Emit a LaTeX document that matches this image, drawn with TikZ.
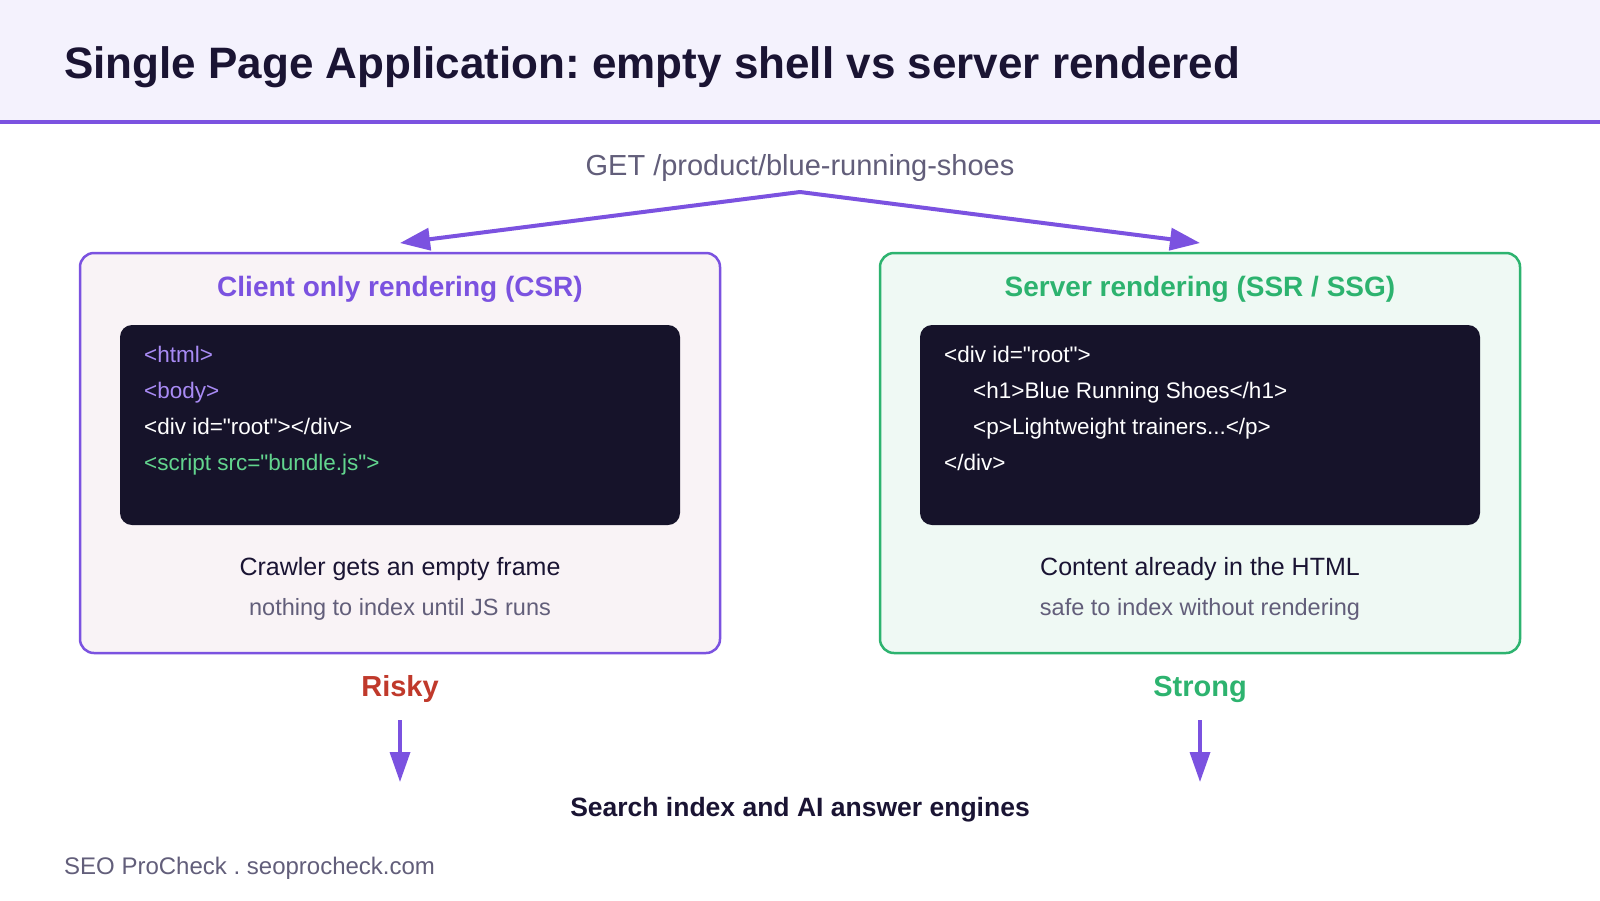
\documentclass[tikz,border=0pt]{standalone}
\usepackage{fontspec}
\setmainfont{Liberation Sans}
\setmonofont{Liberation Sans}
\usetikzlibrary{arrows.meta}
\frenchspacing
\definecolor{hdrbg}{HTML}{F4F2FD}
\definecolor{accent}{HTML}{7B52E0}
\definecolor{ink}{HTML}{1A1433}
\definecolor{muted}{HTML}{625E7A}
\definecolor{csrfill}{HTML}{F9F3F6}
\definecolor{ssrfill}{HTML}{EFF9F4}
\definecolor{okgreen}{HTML}{2DB36F}
\definecolor{codebg}{HTML}{16132A}
\definecolor{lav}{HTML}{A98BF5}
\definecolor{codegreen}{HTML}{62D58E}
\definecolor{riskred}{HTML}{C0392B}
\tikzset{
  fs/.style={font=\fontsize{#1}{#1}\selectfont},
  txt/.style={inner sep=0pt, anchor=base},
  codeln/.style={inner sep=0pt, anchor=base west, font=\ttfamily\fontsize{22.5}{22.5}\selectfont},
  panel/.style={rounded corners=14pt, line width=2.5pt, minimum width=640, minimum height=400, inner sep=0pt},
  codebox/.style={rounded corners=12pt, fill=codebg, minimum width=560, minimum height=200, inner sep=0pt},
  arr/.style={draw=accent, line width=4pt, -{Triangle[length=30pt,width=22pt]}},
  darr/.style={draw=accent, line width=3.5pt, -{Triangle[length=30pt,width=20pt]}},
}
\begin{document}
\begin{tikzpicture}[x=1pt,y=-1pt]
\fill[white] (0,0) rectangle (1600,900);
\useasboundingbox (0,0) rectangle (1600,900);
\fill[hdrbg] (0,0) rectangle (1600,121);
\fill[accent] (0,120) rectangle (1600,123.5);
\node[txt, anchor=base west, fs=44, text=ink] (title) at (64,78.5) {\bfseries Single Page Application: empty shell vs server rendered};

\node[txt, fs=29, text=muted] (get) at (800,175) {GET /product/blue-running-shoes};
\coordinate (split) at (800,192);
\coordinate (inL) at (400,243);
\coordinate (inR) at (1200,243);

% panels
\node[panel, draw=accent, fill=csrfill] (csr) at (400,453) {};
\node[panel, draw=okgreen, fill=ssrfill] (ssr) at (1200,453) {};

\draw[arr] (split) -- (inL);
\draw[arr] (split) -- (inR);

\node[txt, fs=28, text=accent] (csrt) at (400,296.5) {\bfseries Client only rendering (CSR)};
\node[txt, fs=28, text=okgreen] (ssrt) at (1200,296.5) {\bfseries Server rendering (SSR / SSG)};

\node[codebox] (csrcode) at (400,425) {};
\node[codebox] (ssrcode) at (1200,425) {};

\node[codeln, text=lav] (c1) at (144,362) {<html>};
\node[codeln, text=lav] (c2) at (144,398) {<body>};
\node[codeln, text=white] (c3) at (144,434) {<div id="root"></div>};
\node[codeln, text=codegreen] (c4) at (144,470) {<script src="bundle.js">};

\node[codeln, text=white] (s1) at (944,362) {<div id="root">};
\node[codeln, text=white] (s2) at (973,398) {<h1>Blue Running Shoes</h1>};
\node[codeln, text=white] (s3) at (973,434) {<p>Lightweight trainers...</p>};
\node[codeln, text=white] (s4) at (944,470) {</div>};

\node[txt, fs=25, text=ink] (csrm) at (400,575.5) {Crawler gets an empty frame};
\node[txt, fs=23.5, text=muted] (csrs) at (400,615) {nothing to index until JS runs};
\node[txt, fs=25, text=ink] (ssrm) at (1200,575.5) {Content already in the HTML};
\node[txt, fs=23.5, text=muted] (ssrs) at (1200,615) {safe to index without rendering};

\node[txt, fs=29, text=riskred] (risky) at (400,696) {\bfseries Risky};
\node[txt, fs=29, text=okgreen] (strong) at (1200,696) {\bfseries Strong};

\coordinate (rA) at (400,720);
\coordinate (rB) at (400,782);
\coordinate (sA) at (1200,720);
\coordinate (sB) at (1200,782);
\draw[darr] (rA) -- (rB);
\draw[darr] (sA) -- (sB);

\node[txt, fs=26.5, text=ink] (search) at (800,816) {\bfseries Search index and AI answer engines};
\node[txt, anchor=base west, fs=24, text=muted] (footer) at (64,874.5) {SEO ProCheck . seoprocheck.com};
\end{tikzpicture}
\end{document}
